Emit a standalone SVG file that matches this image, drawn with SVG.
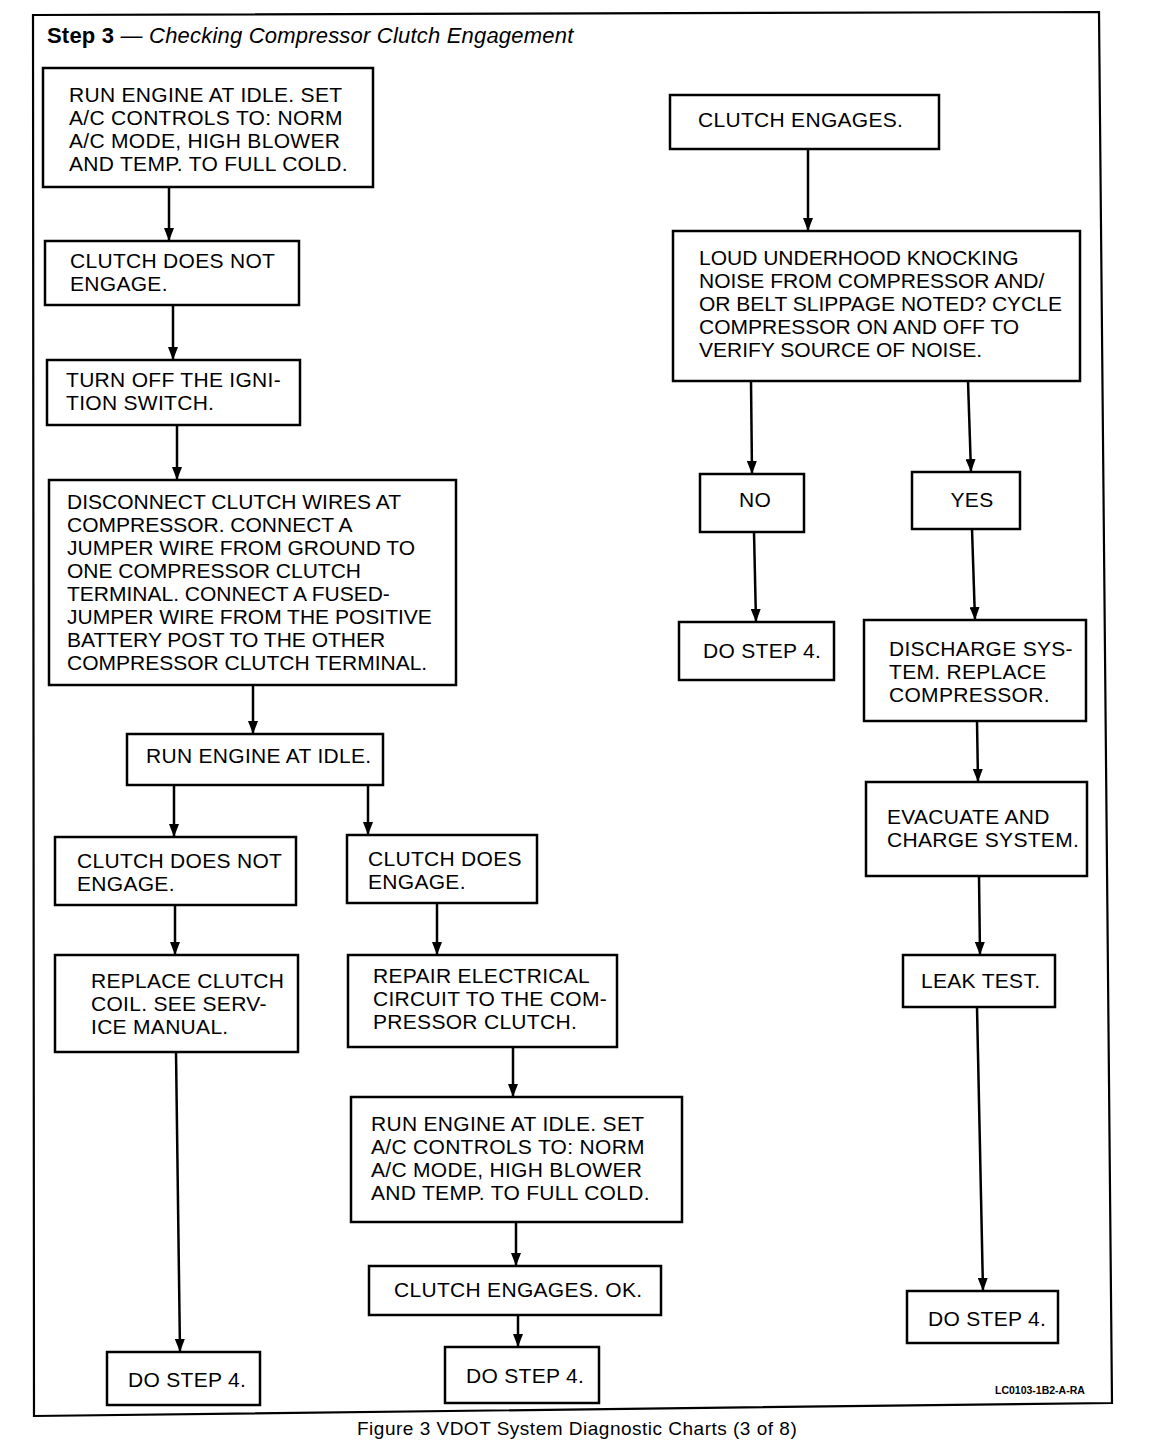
<svg xmlns="http://www.w3.org/2000/svg" width="1168" height="1456" viewBox="0 0 1168 1456">
<style>
.bx{fill:#fff;stroke:#000;stroke-width:2.5}
.t{font-family:"Liberation Sans",Arial,sans-serif;font-size:21px;letter-spacing:0.3px;fill:#000}
.t0{letter-spacing:0}
.c{stroke:#000;stroke-width:2.5;fill:none;marker-end:url(#ah)}
</style>
<defs>
<marker id="ah" markerUnits="userSpaceOnUse" markerWidth="14" markerHeight="10" refX="13" refY="5" orient="auto" viewBox="0 0 14 10">
<path d="M0,0 L13,5 L0,10 Z" fill="#000"/>
</marker>
</defs>
<rect width="1168" height="1456" fill="#fff"/>
<polygon points="33,15 1099,12 1112,1403 34,1416" fill="none" stroke="#000" stroke-width="2.2"/>
<text x="47" y="43" font-family="Liberation Sans,Arial,sans-serif" font-size="22" letter-spacing="0.2"><tspan font-weight="bold">Step 3</tspan><tspan font-style="italic"> — Checking Compressor Clutch Engagement</tspan></text>
<g id="connectors">
<line class="c" x1="169" y1="187" x2="169" y2="241"/>
<line class="c" x1="173" y1="305" x2="173" y2="360"/>
<line class="c" x1="177" y1="425" x2="177" y2="480"/>
<line class="c" x1="253" y1="685" x2="253" y2="734"/>
<line class="c" x1="174" y1="785" x2="174" y2="837"/>
<line class="c" x1="368" y1="785" x2="368" y2="835"/>
<line class="c" x1="175" y1="905" x2="175" y2="955"/>
<line class="c" x1="437" y1="903" x2="437" y2="955"/>
<line class="c" x1="176" y1="1052" x2="180" y2="1352"/>
<line class="c" x1="513" y1="1047" x2="513" y2="1097"/>
<line class="c" x1="516" y1="1222" x2="516" y2="1266"/>
<line class="c" x1="518" y1="1315" x2="518" y2="1347"/>
<line class="c" x1="808" y1="149" x2="808" y2="231"/>
<line class="c" x1="751" y1="381" x2="752" y2="474"/>
<line class="c" x1="968" y1="381" x2="971" y2="472"/>
<line class="c" x1="754" y1="532" x2="756" y2="622"/>
<line class="c" x1="972" y1="529" x2="975" y2="620"/>
<line class="c" x1="977" y1="721" x2="978" y2="782"/>
<line class="c" x1="979" y1="876" x2="980" y2="955"/>
<line class="c" x1="977" y1="1007" x2="983" y2="1291"/>
</g>
<g id="n1"><rect class="bx" x="43" y="68" width="330" height="119"/><text class="t" x="69" y="102">RUN ENGINE AT IDLE. SET</text><text class="t" x="69" y="125">A/C CONTROLS TO: NORM</text><text class="t" x="69" y="148">A/C MODE, HIGH BLOWER</text><text class="t" x="69" y="171">AND TEMP. TO FULL COLD.</text></g>
<g id="n2"><rect class="bx" x="45" y="241" width="254" height="64"/><text class="t" x="70" y="268">CLUTCH DOES NOT</text><text class="t" x="70" y="291">ENGAGE.</text></g>
<g id="n3"><rect class="bx" x="47" y="360" width="253" height="65"/><text class="t" x="66" y="387">TURN OFF THE IGNI-</text><text class="t" x="66" y="410">TION SWITCH.</text></g>
<g id="n4"><rect class="bx" x="49" y="480" width="407" height="205"/><text class="t t0" x="67" y="509">DISCONNECT CLUTCH WIRES AT</text><text class="t t0" x="67" y="532">COMPRESSOR. CONNECT A</text><text class="t t0" x="67" y="555">JUMPER WIRE FROM GROUND TO</text><text class="t t0" x="67" y="578">ONE COMPRESSOR CLUTCH</text><text class="t t0" x="67" y="601">TERMINAL. CONNECT A FUSED-</text><text class="t t0" x="67" y="624">JUMPER WIRE FROM THE POSITIVE</text><text class="t t0" x="67" y="647">BATTERY POST TO THE OTHER</text><text class="t t0" x="67" y="670">COMPRESSOR CLUTCH TERMINAL.</text></g>
<g id="n5"><rect class="bx" x="127" y="734" width="256" height="51"/><text class="t" x="146" y="763">RUN ENGINE AT IDLE.</text></g>
<g id="n6"><rect class="bx" x="55" y="837" width="241" height="68"/><text class="t" x="77" y="868">CLUTCH DOES NOT</text><text class="t" x="77" y="891">ENGAGE.</text></g>
<g id="n7"><rect class="bx" x="347" y="835" width="190" height="68"/><text class="t" x="368" y="866">CLUTCH DOES</text><text class="t" x="368" y="889">ENGAGE.</text></g>
<g id="n8"><rect class="bx" x="55" y="955" width="243" height="97"/><text class="t" x="91" y="988">REPLACE CLUTCH</text><text class="t" x="91" y="1011">COIL. SEE SERV-</text><text class="t" x="91" y="1034">ICE MANUAL.</text></g>
<g id="n9"><rect class="bx" x="348" y="955" width="269" height="92"/><text class="t" x="373" y="983">REPAIR ELECTRICAL</text><text class="t" x="373" y="1006">CIRCUIT TO THE COM-</text><text class="t" x="373" y="1029">PRESSOR CLUTCH.</text></g>
<g id="n10"><rect class="bx" x="351" y="1097" width="331" height="125"/><text class="t" x="371" y="1131">RUN ENGINE AT IDLE. SET</text><text class="t" x="371" y="1154">A/C CONTROLS TO: NORM</text><text class="t" x="371" y="1177">A/C MODE, HIGH BLOWER</text><text class="t" x="371" y="1200">AND TEMP. TO FULL COLD.</text></g>
<g id="n11"><rect class="bx" x="369" y="1266" width="292" height="49"/><text class="t" x="394" y="1297">CLUTCH ENGAGES. OK.</text></g>
<g id="n12"><rect class="bx" x="107" y="1352" width="153" height="53"/><text class="t" x="128" y="1387">DO STEP 4.</text></g>
<g id="n13"><rect class="bx" x="445" y="1347" width="154" height="56"/><text class="t" x="466" y="1383">DO STEP 4.</text></g>
<g id="n14"><rect class="bx" x="670" y="95" width="269" height="54"/><text class="t" x="698" y="127">CLUTCH ENGAGES.</text></g>
<g id="n15"><rect class="bx" x="673" y="231" width="407" height="150"/><text class="t t0" x="699" y="265">LOUD UNDERHOOD KNOCKING</text><text class="t t0" x="699" y="288">NOISE FROM COMPRESSOR AND/</text><text class="t t0" x="699" y="311">OR BELT SLIPPAGE NOTED? CYCLE</text><text class="t t0" x="699" y="334">COMPRESSOR ON AND OFF TO</text><text class="t t0" x="699" y="357">VERIFY SOURCE OF NOISE.</text></g>
<g id="n16"><rect class="bx" x="700" y="474" width="104" height="58"/><text class="t" x="755" y="507" text-anchor="middle">NO</text></g>
<g id="n17"><rect class="bx" x="912" y="472" width="108" height="57"/><text class="t" x="972" y="507" text-anchor="middle">YES</text></g>
<g id="n18"><rect class="bx" x="679" y="622" width="155" height="58"/><text class="t" x="703" y="658">DO STEP 4.</text></g>
<g id="n19"><rect class="bx" x="864" y="620" width="222" height="101"/><text class="t" x="889" y="656">DISCHARGE SYS-</text><text class="t" x="889" y="679">TEM. REPLACE</text><text class="t" x="889" y="702">COMPRESSOR.</text></g>
<g id="n20"><rect class="bx" x="866" y="782" width="221" height="94"/><text class="t" x="887" y="824">EVACUATE AND</text><text class="t" x="887" y="847">CHARGE SYSTEM.</text></g>
<g id="n21"><rect class="bx" x="903" y="955" width="152" height="52"/><text class="t" x="921" y="988">LEAK TEST.</text></g>
<g id="n22"><rect class="bx" x="907" y="1291" width="151" height="52"/><text class="t" x="928" y="1326">DO STEP 4.</text></g>
<text x="995" y="1394" font-family="Liberation Sans,Arial,sans-serif" font-size="10.5" font-weight="bold">LC0103-1B2-A-RA</text>
<text x="357" y="1435" font-family="Liberation Sans,Arial,sans-serif" font-size="19" letter-spacing="0.5">Figure 3 VDOT System Diagnostic Charts (3 of 8)</text>
</svg>
